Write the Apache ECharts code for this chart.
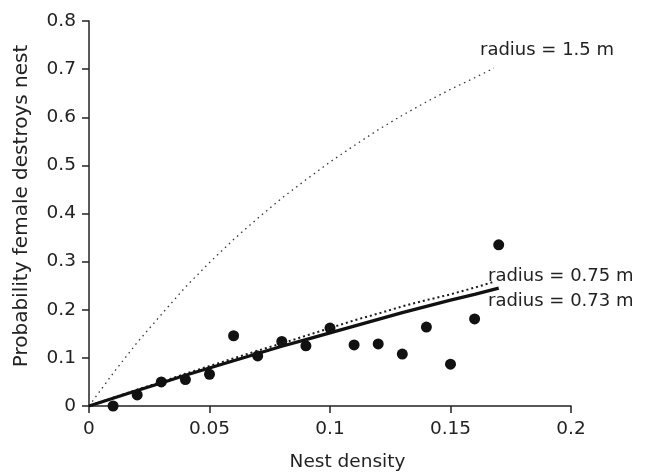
<!DOCTYPE html>
<html>
<head>
<meta charset="utf-8">
<script src="https://cdn.jsdelivr.net/npm/echarts@6/dist/echarts.min.js"></script>
<style>html,body{margin:0;padding:0;background:#fff}#c{width:648px;height:474px}</style>
</head>
<body>
<div id="c"></div>
<script>
var obsX = [0.01,0.02,0.03,0.04,0.05,0.06,0.07,0.08,0.09,0.10,0.11,0.12,0.13,0.14,0.15,0.16,0.17];
var obsY = [0.000,0.023,0.050,0.055,0.066,0.146,0.104,0.134,0.125,0.162,0.127,0.129,0.108,0.164,0.087,0.181,0.335];

var curveX = [0,0.01,0.02,0.03,0.04,0.05,0.06,0.07,0.08,0.09,0.10,0.11,0.12,0.13,0.14,0.15,0.16,0.168];
var r150 = [0,0.068,0.132,0.190,0.247,0.298,0.346,0.390,0.432,0.470,0.507,0.541,0.574,0.604,0.632,0.658,0.682,0.702];
var r075 = [0,0.017,0.034,0.050,0.067,0.083,0.099,0.115,0.130,0.146,0.162,0.178,0.192,0.207,0.220,0.232,0.246,0.258];
var fitX = [0,0.01,0.02,0.03,0.04,0.05,0.06,0.07,0.08,0.09,0.10,0.11,0.12,0.13,0.14,0.15,0.16,0.17];
var r073 = [0,0.016,0.032,0.048,0.064,0.079,0.094,0.109,0.124,0.138,0.152,0.166,0.180,0.194,0.207,0.220,0.232,0.245];

var xTicks = [0,0.05,0.1,0.15,0.2];
var yTicks = [0,0.1,0.2,0.3,0.4,0.5,0.6,0.7,0.8];
var labels = ['radius = 1.5 m','radius = 0.75 m','radius = 0.73 m'];
var xTitle = 'Nest density';
var yTitle = 'Probability female destroys nest';

function zip(a,b){return a.map(function(v,i){return [v,b[i]];});}

var font = '"DejaVu Sans", sans-serif';
var ink = '#222';
var chart = echarts.init(document.getElementById('c'));
chart.setOption({
  animation:false,
  grid:{left:89,right:77,top:21,bottom:68,containLabel:false},
  xAxis:{type:'value',min:xTicks[0],max:xTicks[xTicks.length-1],interval:0.05,
    axisLine:{lineStyle:{color:ink,width:1.5}},
    axisTick:{show:true,inside:false,length:7,lineStyle:{color:ink,width:1.5}},
    axisLabel:{fontFamily:font,fontSize:18.5,color:ink,margin:14,formatter:function(v){return String(+v.toFixed(2));}},
    splitLine:{show:false}},
  yAxis:{type:'value',min:yTicks[0],max:yTicks[yTicks.length-1],interval:0.1,
    axisLine:{show:true,lineStyle:{color:ink,width:1.5}},
    axisTick:{show:true,inside:false,length:7,lineStyle:{color:ink,width:1.5}},
    axisLabel:{fontFamily:font,fontSize:18.5,color:ink,margin:13,formatter:function(v){return String(+v.toFixed(1));}},
    splitLine:{show:false}},
  series:[
    {type:'line',data:zip(curveX,r150),showSymbol:false,symbol:'none',
      lineStyle:{color:'#333',width:1.3,type:[1.5,4]}},
    {type:'line',data:zip(curveX,r075),showSymbol:false,symbol:'none',
      lineStyle:{color:'#1a1a1a',width:2,type:[2,3]}},
    {type:'line',data:zip(fitX,r073),showSymbol:false,symbol:'none',
      lineStyle:{color:'#111',width:3.2}},
    {type:'scatter',data:zip(obsX,obsY),symbol:'circle',symbolSize:11,
      itemStyle:{color:'#111',opacity:1}}
  ],
  graphic:[
    {type:'text',x:480,y:50,style:{text:labels[0],font:'18px '+font,fill:ink,verticalAlign:'middle'}},
    {type:'text',x:488,y:276.5,style:{text:labels[1],font:'18px '+font,fill:ink,verticalAlign:'middle'}},
    {type:'text',x:488,y:301.5,style:{text:labels[2],font:'18px '+font,fill:ink,verticalAlign:'middle'}},
    {type:'text',x:347.5,y:462,style:{text:xTitle,font:'18.5px '+font,fill:ink,align:'center',verticalAlign:'middle'}},
    {type:'text',x:22,y:206,rotation:Math.PI/2,style:{text:yTitle,font:'20px '+font,fill:ink,align:'center',verticalAlign:'middle'}}
  ]
});
</script>
</body>
</html>
